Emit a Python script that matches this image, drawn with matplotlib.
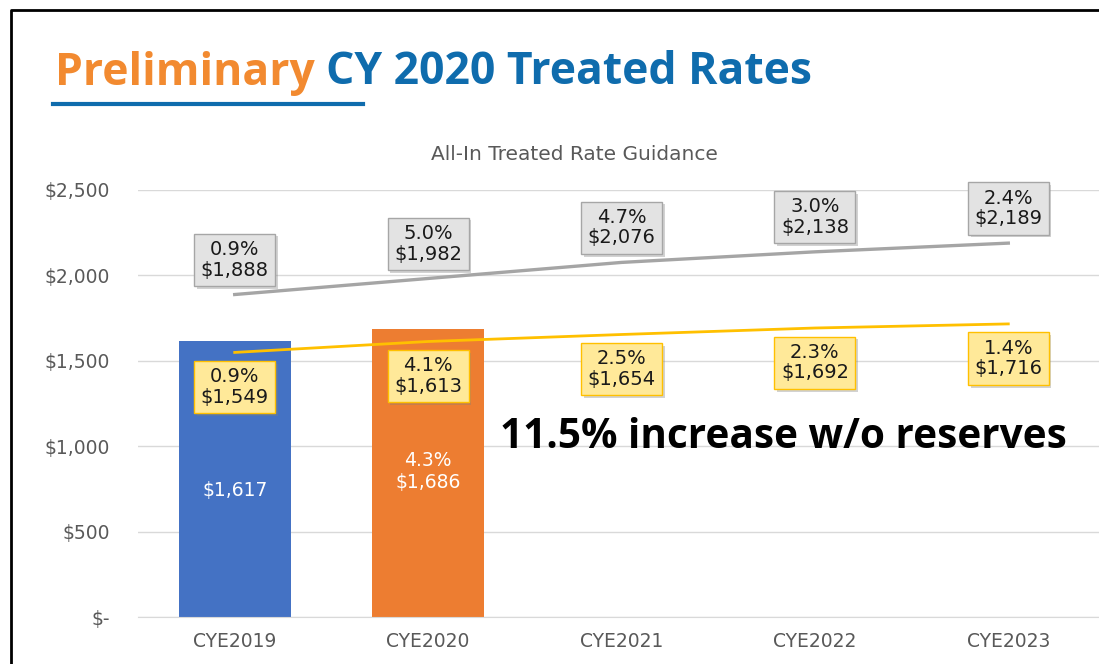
import matplotlib.pyplot as plt
import matplotlib.patheffects as pe
from matplotlib.lines import Line2D
from matplotlib.ticker import FuncFormatter

# Treated rate guidance by contract year end
years = ["CYE2019", "CYE2020", "CYE2021", "CYE2022", "CYE2023"]
all_in_rate = [1888, 1982, 2076, 2138, 2189]
all_in_pct = ["0.9%", "5.0%", "4.7%", "3.0%", "2.4%"]
base_rate = [1549, 1613, 1654, 1692, 1716]
base_pct = ["0.9%", "4.1%", "2.5%", "2.3%", "1.4%"]
actual_rate = [1617, 1686]
actual_pct = ["", "4.3%"]
bar_colors = ["#4472c4", "#ed7d31"]

GREY_TXT = "#595959"

fig = plt.figure(figsize=(10.99, 6.64), dpi=100)
ax = fig.add_axes([138 / 1099, 1 - 617 / 664, (1105 - 138) / 1099, (617 - 190) / 664])

x = list(range(len(years)))

# gridlines
ax.set_ylim(0, 2500)
ax.set_xlim(-0.5, 4.5)
ax.set_yticks([0, 500, 1000, 1500, 2000, 2500])
ax.grid(axis="y", color="#d9d9d9", lw=1)
ax.set_axisbelow(True)
for s in ["top", "right", "left"]:
    ax.spines[s].set_visible(False)
ax.spines["bottom"].set_color("#d9d9d9")
ax.tick_params(length=0, colors=GREY_TXT, labelsize=13.5)
ax.tick_params(axis="y", pad=20)
ax.tick_params(axis="x", pad=11)
ax.yaxis.set_major_formatter(FuncFormatter(lambda v, p: "$-" if v == 0 else "${:,.0f}".format(v)))
ax.set_xticks(x)
ax.set_xticklabels(years)

# bars for years with actuals
bars = ax.bar(x[:len(actual_rate)], actual_rate, width=0.58, color=bar_colors, zorder=2)
for i, b in enumerate(bars):
    lbl = "${:,}".format(actual_rate[i])
    if actual_pct[i]:
        lbl = actual_pct[i] + "\n" + lbl
    ax.annotate(lbl, (b.get_x() + b.get_width() / 2, actual_rate[i] / 2),
                xytext=(0, -8 if not actual_pct[i] else 1), textcoords="offset points",
                ha="center", va="center", color="white", fontsize=13.5, linespacing=1.2, zorder=3)

# trend lines
ax.plot(x, all_in_rate, color="#a5a5a5", lw=2.4, zorder=3)
ax.plot(x, base_rate, color="#ffc000", lw=2.0, zorder=3)

shadow = [pe.withSimplePatchShadow(offset=(2, -2), shadow_rgbFace="#7f7f7f", alpha=0.35)]

for i in x:
    t = ax.annotate("{}\n${:,}".format(all_in_pct[i], all_in_rate[i]), (i, all_in_rate[i]),
                    xytext=(0, 25), textcoords="offset points", ha="center", va="center",
                    fontsize=14, color="#1a1a1a", linespacing=1.1, zorder=5,
                    bbox=dict(boxstyle="square,pad=0.33", fc="#e3e3e3", ec="#a6a6a6", lw=1))
    t.get_bbox_patch().set_path_effects(shadow)
    t = ax.annotate("{}\n${:,}".format(base_pct[i], base_rate[i]), (i, base_rate[i]),
                    xytext=(0, -25), textcoords="offset points", ha="center", va="center",
                    fontsize=14, color="#1a1a1a", linespacing=1.1, zorder=5,
                    bbox=dict(boxstyle="square,pad=0.33", fc="#ffe999", ec="#ffc000", lw=1))
    t.get_bbox_patch().set_path_effects(shadow)

# chart subtitle and callout
fig.text(574 / 1099, 1 - 154 / 664, "All-In Treated Rate Guidance", ha="center", va="center",
         fontsize=14.5, color=GREY_TXT)
fig.text(500 / 1099, 1 - 437 / 664, "11.5% increase w/o reserves", ha="left", va="center",
         fontsize=29.2, fontweight="bold", family="Open Sans", color="black")

# slide title in two colours
t1 = fig.text(55 / 1099, 1 - 73 / 664, "Preliminary ", ha="left", va="center",
              fontsize=32, fontweight="bold", family="Open Sans", color="#f28a30")
fig.canvas.draw()
bb = t1.get_window_extent()
fig.text(bb.x1 / fig.bbox.width, 1 - 73 / 664, "CY 2020 Treated Rates", ha="left", va="center",
         fontsize=32, fontweight="bold", family="Open Sans", color="#0f6cad")
fig.add_artist(Line2D([53 / 1099, 363 / 1099], [1 - 104 / 664] * 2, color="#0f6cad", lw=3))

# slide frame
fig.add_artist(Line2D([11 / 1099, 11 / 1099, 1], [0, 1 - 10 / 664, 1 - 10 / 664], color="black", lw=2))

fig.savefig("out.png", dpi=100)
